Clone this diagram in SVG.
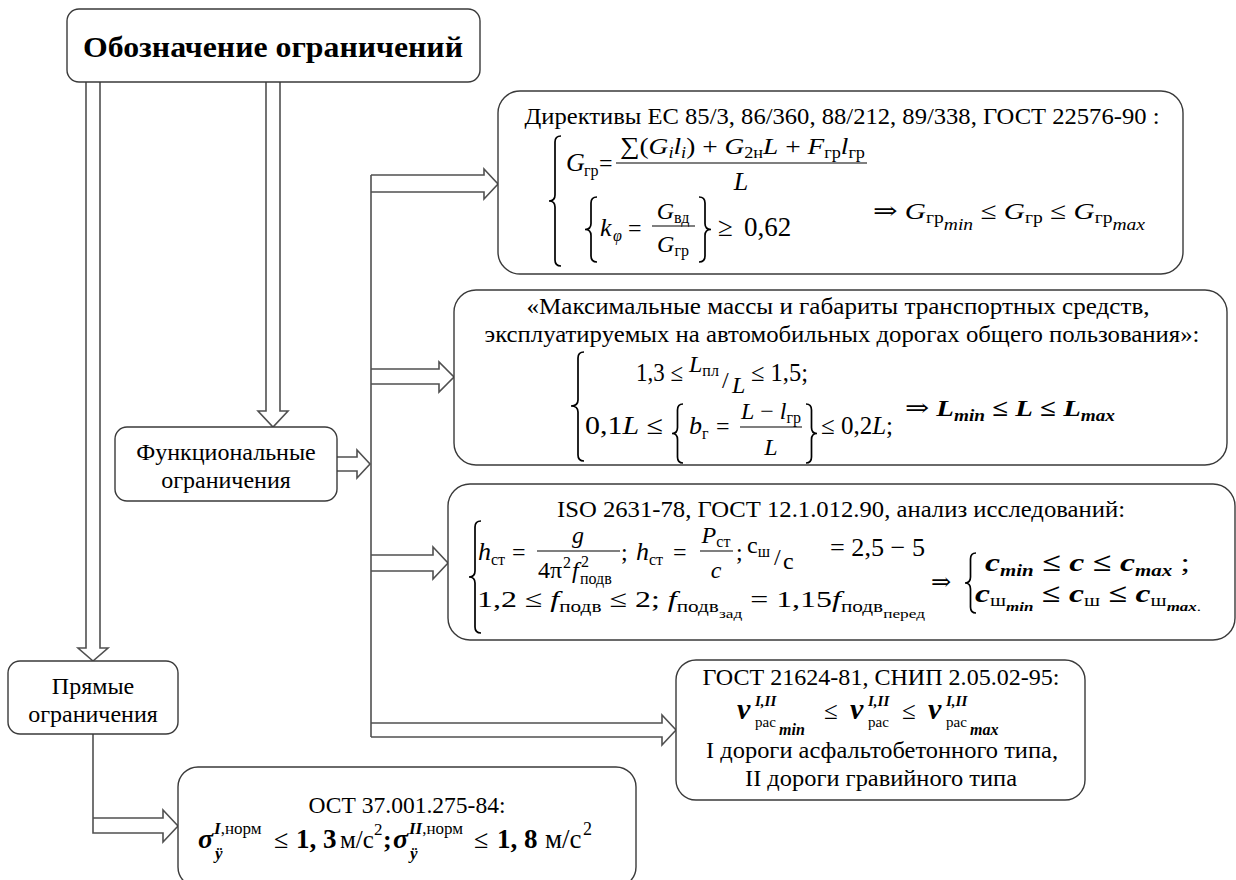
<svg xmlns="http://www.w3.org/2000/svg" width="1236" height="880" viewBox="0 0 1236 880" font-family="'Liberation Serif', 'Times New Roman', 'DejaVu Serif', serif">
<defs><style>
.box{fill:#fff;stroke:#3a3a3a;stroke-width:1.4}
.conn{fill:none;stroke:#505050;stroke-width:1.6}
.br{fill:none;stroke:#000;stroke-width:1.7}
.bar{stroke:#000;stroke-width:1.2}
text{font-family:'Liberation Serif','Times New Roman','DejaVu Serif',serif;fill:#000}
.t{font-size:23px}
.m{font-size:24px}
.i{font-style:italic}
.b{font-weight:bold}
.s{font-size:16px}
.ss{font-size:13px}
.r{font-style:normal;font-weight:normal}
</style></defs>
<rect width="1236" height="880" fill="#fff"/>
<g id="connectors">
<path class="conn" d="M86,82 V648 H78 L93,661 L108,648 H100 V82"/>
<path class="conn" d="M266,82 V411 H258 L273,427 L288,411 H280 V82"/>
<path class="conn" d="M337,457 H357 V450 L370,464 L357,478 V471 H337"/>
<path class="conn" d="M371,175 V737"/>
<path class="conn" d="M371,175 H484 V169 L498,184 L484,199 V192 H371"/>
<path class="conn" d="M371,369 H439 V362 L454,377 L439,392 V384 H371"/>
<path class="conn" d="M371,555 H433 V547 L448,563 L433,579 V571 H371"/>
<path class="conn" d="M371,723 H662 V715 L676,730 L662,745 V737 H371"/>
<path class="conn" d="M93,734 V833 H163 V842 L178,826 L163,810 V818 H93"/>
</g>
<g id="title">
<rect class="box" x="67" y="9" width="413" height="73" rx="12"/>
<text x="273" y="57" font-size="30" font-weight="bold" text-anchor="middle" textLength="380" lengthAdjust="spacingAndGlyphs">Обозначение ограничений</text>
</g>
<g id="functional">
<rect class="box" x="115" y="427" width="222" height="74" rx="12"/>
<text class="m" x="226" y="460" text-anchor="middle">Функциональные</text>
<text class="m" x="226" y="488" text-anchor="middle">ограничения</text>
</g>
<g id="direct">
<rect class="box" x="8" y="661" width="170" height="73" rx="12"/>
<text class="m" x="93" y="694" text-anchor="middle">Прямые</text>
<text class="m" x="93" y="722" text-anchor="middle">ограничения</text>
</g>
<g id="box-directives">
<rect class="box" x="498" y="91" width="685" height="183" rx="22"/>
<text class="t" x="842" y="124" text-anchor="middle" textLength="635" lengthAdjust="spacingAndGlyphs">Директивы ЕС 85/3, 86/360, 88/212, 89/338, ГОСТ 22576-90 :</text>
<path class="br" d="M561,136 Q555,136 555,142 L555,195 Q555,201 549,201 Q555,201 555,207 L555,260 Q555,266 561,266"/>
<text class="i" font-size="26" x="566" y="171">G</text>
<text class="s" x="584" y="176">гр</text>
<text class="m" x="599" y="171">=</text>
<text class="m" x="620" y="154" textLength="245" lengthAdjust="spacingAndGlyphs">∑(<tspan class="i">G</tspan><tspan class="s i" dy="4">i</tspan><tspan class="i" dy="-4">l</tspan><tspan class="s i" dy="4">i</tspan><tspan dy="-4">) + </tspan><tspan class="i">G</tspan><tspan class="s" dy="4">2н</tspan><tspan class="i" dy="-4">L</tspan> + <tspan class="i">F</tspan><tspan class="s" dy="4">гр</tspan><tspan class="i" dy="-4">l</tspan><tspan class="s" dy="4">гр</tspan></text>
<line class="bar" x1="616" y1="163" x2="867" y2="163"/>
<text class="i" font-size="26" x="741" y="190" text-anchor="middle">L</text>
<path class="br" d="M597,197 Q591,197 591,203 L591,223.5 Q591,229.5 585,229.5 Q591,229.5 591,235.5 L591,256 Q591,262 597,262"/>
<text class="i" font-size="26" x="600" y="236">k</text>
<text class="s i" x="613" y="241">φ</text>
<text class="m" x="628" y="236">=</text>
<text class="m" x="673" y="219" text-anchor="middle"><tspan class="i">G</tspan><tspan class="s" dy="4">вд</tspan></text>
<line class="bar" x1="652" y1="226" x2="695" y2="226"/>
<text class="m" x="673" y="252" text-anchor="middle"><tspan class="i">G</tspan><tspan class="s" dy="4">гр</tspan></text>
<path class="br" d="M699,197 Q705,197 705,203 L705,223.5 Q705,229.5 711,229.5 Q705,229.5 705,235.5 L705,256 Q705,262 699,262"/>
<text font-size="27" x="718" y="236">≥</text>
<text font-size="27" x="744" y="236">0,62</text>
<text class="m" x="873" y="219" textLength="272" lengthAdjust="spacingAndGlyphs">⇒ <tspan class="i">G</tspan><tspan class="s" dy="4">гр</tspan><tspan class="s i" dy="7">min</tspan><tspan dy="-11"> ≤ </tspan><tspan class="i">G</tspan><tspan class="s" dy="4">гр</tspan><tspan dy="-4"> ≤ </tspan><tspan class="i">G</tspan><tspan class="s" dy="4">гр</tspan><tspan class="s i" dy="7">max</tspan></text>
</g>
<g id="box-dimensions">
<rect class="box" x="454" y="290" width="773" height="175" rx="22"/>
<text class="t" x="838" y="314" text-anchor="middle" textLength="623" lengthAdjust="spacingAndGlyphs">«Максимальные массы и габариты транспортных средств,</text>
<text class="t" x="842" y="342" text-anchor="middle" textLength="715" lengthAdjust="spacingAndGlyphs">эксплуатируемых на автомобильных дорогах общего пользования»:</text>
<path class="br" d="M584,352 Q578,352 578,358 L578,400 Q578,406 571,406 Q578,406 578,412 L578,455 Q578,461 584,461"/>
<text font-size="25" x="636" y="381" textLength="47" lengthAdjust="spacingAndGlyphs">1,3 ≤</text>
<text class="m" x="689" y="372"><tspan class="i">L</tspan><tspan class="s" dy="4">пл</tspan></text>
<text class="m" x="722" y="388" font-size="28">/</text>
<text class="m i" x="732" y="393">L</text>
<text font-size="25" x="751" y="381" textLength="57" lengthAdjust="spacingAndGlyphs">≤ 1,5;</text>
<text font-size="26" x="585" y="434" textLength="78" lengthAdjust="spacingAndGlyphs">0,1<tspan class="i">L</tspan> ≤</text>
<path class="br" d="M683,404 Q677.5,404 677.5,410 L677.5,427.5 Q677.5,433.5 672,433.5 Q677.5,433.5 677.5,439.5 L677.5,457 Q677.5,463 683,463"/>
<text class="i" font-size="26" x="689" y="434">b</text>
<text class="s" x="702" y="439">г</text>
<text class="m" x="716" y="434">=</text>
<text class="m" x="771" y="419" text-anchor="middle"><tspan class="i">L</tspan> − <tspan class="i">l</tspan><tspan class="s" dy="4">гр</tspan></text>
<line class="bar" x1="740" y1="427" x2="802" y2="427"/>
<text class="m i" x="771" y="455" text-anchor="middle">L</text>
<path class="br" d="M806,404 Q811.5,404 811.5,410 L811.5,427.5 Q811.5,433.5 817,433.5 Q811.5,433.5 811.5,439.5 L811.5,457 Q811.5,463 806,463"/>
<text font-size="25" x="821" y="434" textLength="72" lengthAdjust="spacingAndGlyphs">≤ 0,2<tspan class="i">L</tspan>;</text>
<text class="m b" x="905" y="416" textLength="210" lengthAdjust="spacingAndGlyphs"><tspan class="r">⇒ </tspan><tspan class="i">L</tspan><tspan class="s i" dy="5">min</tspan><tspan dy="-5"> ≤ </tspan><tspan class="i">L</tspan> ≤ <tspan class="i">L</tspan><tspan class="s i" dy="5">max</tspan></text>
</g>
<g id="box-suspension">
<rect class="box" x="448" y="484" width="787" height="156" rx="22"/>
<text class="t" x="841" y="517" text-anchor="middle" textLength="568" lengthAdjust="spacingAndGlyphs">ISO 2631-78, ГОСТ 12.1.012.90, анализ исследований:</text>
<path class="br" d="M481,521 Q475,521 475,527 L475,571 Q475,577 469,577 Q475,577 475,583 L475,627 Q475,633 481,633"/>
<text class="i" font-size="26" x="478" y="560">h</text>
<text class="s" x="491" y="565">ст</text>
<text class="m" x="512" y="560">=</text>
<text class="m i" x="578" y="543" text-anchor="middle">g</text>
<line class="bar" x1="537" y1="551" x2="620" y2="551"/>
<text class="m" x="538" y="578">4π</text>
<text class="s" x="563" y="568">2</text>
<text class="m i" x="572" y="578">f</text>
<text class="s" x="581" y="567">2</text>
<text class="s" x="580" y="584">подв</text>
<text class="m" x="621" y="560">;</text>
<text class="i" font-size="26" x="636" y="560">h</text>
<text class="s" x="649" y="565">ст</text>
<text class="m" x="673" y="560">=</text>
<text class="m" x="716" y="543" text-anchor="middle"><tspan class="i">P</tspan><tspan class="s" dy="4">ст</tspan></text>
<line class="bar" x1="700" y1="551" x2="733" y2="551"/>
<text class="m i" x="716" y="578" text-anchor="middle">c</text>
<text class="m" x="736" y="560">;</text>
<text class="m" x="747" y="553">с<tspan class="s" dy="4">ш</tspan></text>
<text class="m" x="774" y="565" font-size="26">/</text>
<text class="m" x="783" y="569">с</text>
<text font-size="26" x="830" y="556" textLength="95" lengthAdjust="spacingAndGlyphs">= 2,5 − 5</text>
<text class="m" x="477" y="607" textLength="448" lengthAdjust="spacingAndGlyphs">1,2 ≤ <tspan class="i">f</tspan><tspan class="s" dy="5">подв</tspan><tspan dy="-5"> ≤ 2; </tspan><tspan class="i">f</tspan><tspan class="s" dy="5">подв</tspan><tspan class="ss" dy="6">зад</tspan><tspan dy="-11"> = 1,15</tspan><tspan class="i">f</tspan><tspan class="s" dy="5">подв</tspan><tspan class="ss" dy="6">перед</tspan></text>
<text class="m" x="931" y="590">⇒</text>
<path class="br" d="M976,553 Q970.5,553 970.5,559 L970.5,577 Q970.5,583 965,583 Q970.5,583 970.5,589 L970.5,607 Q970.5,613 976,613"/>
<text class="b i" font-size="26" x="985" y="571" textLength="205" lengthAdjust="spacingAndGlyphs">c<tspan class="s" dy="5">min</tspan><tspan dy="-5"> ≤ c ≤ c</tspan><tspan class="s" dy="5">max</tspan><tspan class="r" dy="-5"> ;</tspan></text>
<text class="b i" font-size="26" x="975" y="602" textLength="226" lengthAdjust="spacingAndGlyphs">c<tspan class="s r" dy="4">ш</tspan><tspan class="ss" dy="5">min</tspan><tspan dy="-9"> ≤ c</tspan><tspan class="s r" dy="4">ш</tspan><tspan dy="-4"> ≤ c</tspan><tspan class="s r" dy="4">ш</tspan><tspan class="ss" dy="5">max</tspan><tspan class="ss r">.</tspan></text>
</g>
<g id="box-speed">
<rect class="box" x="676" y="660" width="409" height="140" rx="20"/>
<text class="t" x="881" y="685" text-anchor="middle" textLength="357" lengthAdjust="spacingAndGlyphs">ГОСТ 21624-81, СНИП 2.05.02-95:</text>
<text class="b i" font-size="30" x="737" y="719">v</text>
<text class="b i" font-size="15" x="755" y="706">I,II</text>
<text font-size="15" x="755" y="727">рас</text>
<text class="b i" font-size="16" x="779" y="735">min</text>
<text font-size="25" x="824" y="719">≤</text>
<text class="b i" font-size="30" x="850" y="719">v</text>
<text class="b i" font-size="15" x="868" y="706">I,II</text>
<text font-size="15" x="868" y="727">рас</text>
<text font-size="25" x="902" y="719">≤</text>
<text class="b i" font-size="30" x="928" y="719">v</text>
<text class="b i" font-size="15" x="946" y="706">I,II</text>
<text font-size="15" x="946" y="727">рас</text>
<text class="b i" font-size="16" x="970" y="735">max</text>
<text class="t" x="882" y="758" text-anchor="middle" textLength="352" lengthAdjust="spacingAndGlyphs">I дороги асфальтобетонного типа,</text>
<text class="t" x="881" y="786" text-anchor="middle" textLength="272" lengthAdjust="spacingAndGlyphs">II дороги гравийного типа</text>
</g>
<g id="box-vibration">
<rect class="box" x="178" y="767" width="458" height="120" rx="20"/>
<text class="t" x="407" y="813" text-anchor="middle" textLength="197" lengthAdjust="spacingAndGlyphs">ОСТ 37.001.275-84:</text>
<text class="b i" font-size="28" x="198" y="848">σ</text>
<text font-size="17" x="214" y="834"><tspan class="b i">I</tspan>,норм</text>
<text class="b i" font-size="17" x="215" y="859">ÿ</text>
<text font-size="26" x="274" y="848">≤</text>
<text class="b" font-size="27" x="296" y="848">1, 3</text>
<text font-size="25" x="340" y="848">м/с</text>
<text font-size="17" x="374" y="835">2</text>
<text class="b" font-size="26" x="383" y="848">;</text>
<text class="b i" font-size="28" x="393" y="848">σ</text>
<text font-size="17" x="409" y="834"><tspan class="b i">II</tspan>,норм</text>
<text class="b i" font-size="17" x="410" y="859">ÿ</text>
<text font-size="26" x="474" y="848">≤</text>
<text class="b" font-size="27" x="497" y="848">1, 8</text>
<text font-size="27" x="545" y="848">м/с</text>
<text font-size="18" x="583" y="835">2</text>
</g>
</svg>
